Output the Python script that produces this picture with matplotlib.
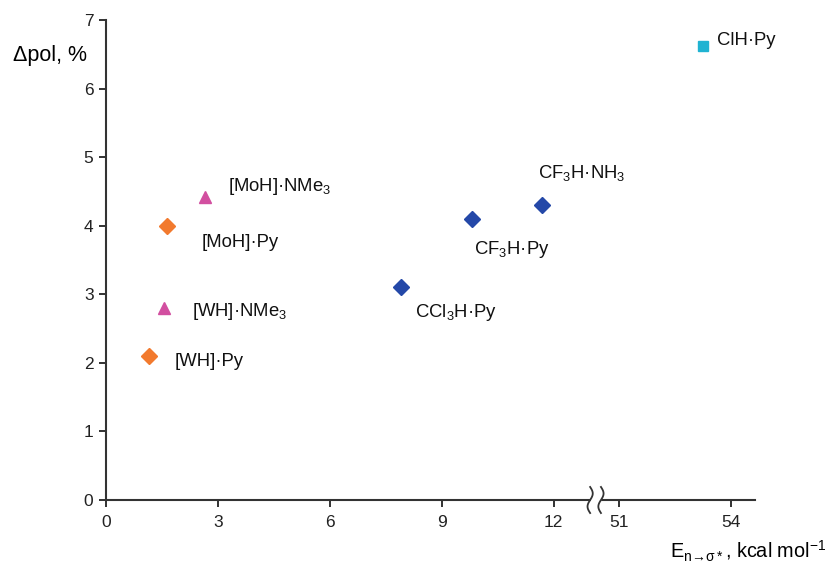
import numpy as np
import matplotlib.pyplot as plt

plt.rcParams['font.family'] = ['Liberation Sans', 'DejaVu Sans']
plt.rcParams['mathtext.fontset'] = 'custom'
plt.rcParams['mathtext.rm'] = 'Liberation Sans'
plt.rcParams['mathtext.it'] = 'Liberation Sans:italic'

# data (E in kcal/mol, delta pol in %)
names = ['[WH]·Py', '[MoH]·Py', '[WH]·NMe$_3$', '[MoH]·NMe$_3$',
         'CCl$_3$H·Py', 'CF$_3$H·Py', 'CF$_3$H·NH$_3$', 'ClH·Py']
e_vals = [1.15, 1.64, 1.55, 2.65, 7.9, 9.81, 11.69, 53.25]
dpol = [2.1, 4.0, 2.8, 4.42, 3.1, 4.1, 4.3, 6.62]
markers = ['D', 'D', '^', '^', 'D', 'D', 'D', 's']
colors = ['#f27a2e', '#f27a2e', '#d24fa0', '#d24fa0',
          '#2448a8', '#2448a8', '#2448a8', '#1fb3d2']
# label offsets in pixels
offsets = [(26, -6), (34, -17), (28, -3), (23, 10),
           (14, -25), (2, -31), (-4, 32), (14, 6)]

xticks = [0, 3, 6, 9, 12, 51, 54]
yticks = [0, 1, 2, 3, 4, 5, 6, 7]

# broken axis: values above the break get shifted left
brk = 12.5
shift = 51 - 13.75


def tx(v):
    return v - shift if v > brk else v


fig = plt.figure(figsize=(8.34, 5.71), dpi=100)
ax = fig.add_axes([106 / 834, 71 / 571, 649 / 834, 480 / 571])

for x, y, m, c, n, off in zip(e_vals, dpol, markers, colors, names, offsets):
    ms = {'D': 8, '^': 9, 's': 7}[m]
    ax.plot(tx(x), y, marker=m, color=c, markersize=ms, linestyle='none')
    ax.annotate(n, (tx(x), y), xytext=off, textcoords='offset pixels',
                fontsize=13.3, ha='left', va='center', color='#111111')

ax.set_xlim(0, 17.4)
ax.set_ylim(0, 7)
ax.set_xticks([tx(v) for v in xticks])
ax.set_xticklabels([str(v) for v in xticks])
ax.set_yticks(yticks)
ax.tick_params(labelsize=12.5, length=5, width=1.3, colors='#222222', pad=4)
ax.tick_params(axis='x', pad=6)
for s in ['top', 'right']:
    ax.spines[s].set_visible(False)
for s in ['left', 'bottom']:
    ax.spines[s].set_linewidth(1.5)
    ax.spines[s].set_color('#333333')

# axis break marks
bx = [12.98, 13.27]
t = np.linspace(-1, 1, 40)
ax.fill_between([13.0, 13.25], -0.03, 0.03, color='white', zorder=3,
                clip_on=False)
for b in bx:
    ax.plot(b + 0.07 * np.sin(np.pi * t), 0.19 * t, color='#333333',
            lw=1.3, clip_on=False, zorder=4)

fig.text(0.015, 1 - 56 / 571, 'Δpol, %', fontsize=15.5, ha='left', va='center')
fig.text(670 / 834, 1 - 551 / 571,
         'E$_{\\mathrm{n\\!\\rightarrow\\!\\sigma*}}$, kcal mol$^{-1}$',
         fontsize=14.3, ha='left', va='center')

fig.savefig('out.png', dpi=100)
